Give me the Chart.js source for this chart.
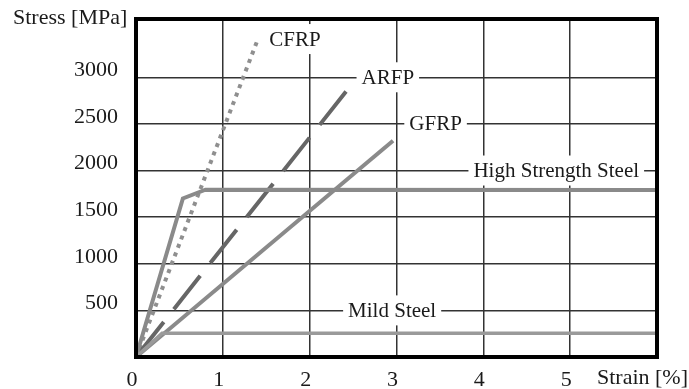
<!DOCTYPE html>
<html>
<head>
<meta charset="utf-8">
<script src="https://cdn.jsdelivr.net/npm/chart.js@4.4.0/dist/chart.umd.min.js"></script>
<style>
html,body{margin:0;padding:0;background:#fff;}
</style>
</head>
<body>
<canvas id="chart" width="689" height="389"></canvas>
<script>
// strain [%] / stress [MPa]
var cfrpStrain = [0, 1.4];
var cfrpStress = [0, 3400];
var arfpStrain = [0, 2.43];
var arfpStress = [0, 2860];
var gfrpStrain = [0, 2.96];
var gfrpStress = [0, 2320];
var hssStrain  = [0, 0.54, 0.8, 6];
var hssStress  = [0, 1700, 1795, 1790];
var mildStrain = [0, 0.3, 6];
var mildStress = [0, 255, 255];

var xTicks = [0, 1, 2, 3, 4, 5, 6];
var yTicks = [0, 500, 1000, 1500, 2000, 2500, 3000];

// curve names, placed in data units
var labelText = ["CFRP", "ARFP", "GFRP", "High Strength Steel", "Mild Steel"];
var labelX    = [1.83, 2.9, 3.45, 4.84, 2.95];
var labelY    = [3410, 3000, 2500, 2000, 500];

function pts(xs, ys) {
    var out = [];
    for (var i = 0; i < xs.length; i++) {
        out.push({x: xs[i], y: ys[i]});
    }
    return out;
}

var serif = "'Liberation Serif', 'DejaVu Serif', serif";

var curveLabels = {
    id: 'curveLabels',
    beforeDatasetsDraw: function(chart) {
        var ctx = chart.ctx;
        var xs = chart.scales.x, ys = chart.scales.y;
        ctx.save();
        ctx.font = "21px " + serif;
        ctx.textAlign = "center";
        ctx.textBaseline = "middle";
        for (var i = 0; i < labelText.length; i++) {
            var px = xs.getPixelForValue(labelX[i]);
            var py = ys.getPixelForValue(labelY[i]);
            var w = ctx.measureText(labelText[i]).width;
            ctx.fillStyle = "#fff";
            ctx.fillRect(px - w / 2 - 5, py - 15, w + 10, 30);
            ctx.fillStyle = "#1a1a1a";
            ctx.fillText(labelText[i], px, py + 1);
        }
        ctx.restore();
    }
};

var frame = {
    id: 'frame',
    afterDraw: function(chart) {
        var ctx = chart.ctx, a = chart.chartArea;
        ctx.save();
        ctx.strokeStyle = "#000";
        ctx.lineWidth = 4;
        ctx.strokeRect(a.left, a.top, a.right - a.left, a.bottom - a.top);
        ctx.font = "22px " + serif;
        ctx.fillStyle = "#1a1a1a";
        ctx.textBaseline = "middle";
        ctx.textAlign = "left";
        ctx.fillText("Stress [MPa]", 13, 18);
        ctx.textAlign = "right";
        ctx.fillText("Strain [%]", 688, 378);
        ctx.restore();
    }
};

new Chart(document.getElementById("chart"), {
    type: 'line',
    data: {
        datasets: [
            {label: "Mild Steel", data: pts(mildStrain, mildStress), borderColor: "#9a9a9a", borderWidth: 3.5},
            {label: "High Strength Steel", data: pts(hssStrain, hssStress), borderColor: "#8a8a8a", borderWidth: 4},
            {label: "GFRP", data: pts(gfrpStrain, gfrpStress), borderColor: "#8a8a8a", borderWidth: 4},
            {label: "ARFP", data: pts(arfpStrain, arfpStress), borderColor: "#666", borderWidth: 4, borderDash: [42.5, 16.25], borderDashOffset: 56.5},
            {label: "CFRP", data: pts(cfrpStrain, cfrpStress), borderColor: "#8f8f8f", borderWidth: 4, borderDash: [4, 5]}
        ]
    },
    options: {
        responsive: false,
        animation: false,
        layout: {padding: {top: 19, right: 32, left: 0, bottom: 0}},
        elements: {point: {radius: 0}, line: {tension: 0, fill: false}},
        plugins: {legend: {display: false}, tooltip: {enabled: false}},
        scales: {
            x: {
                type: 'linear',
                min: 0,
                max: 6,
                afterBuildTicks: function(s) { s.ticks = xTicks.map(function(v) { return {value: v}; }); },
                afterFit: function(s) { s.height = 32; },
                grid: {color: "#333", lineWidth: 1.5, drawTicks: false},
                border: {display: false},
                ticks: {
                    padding: 10,
                    labelOffset: -4,
                    color: "#1a1a1a",
                    font: {family: serif, size: 22},
                    callback: function(v) { return v == 6 ? "" : v; }
                }
            },
            y: {
                type: 'linear',
                min: 0,
                max: 3625,
                afterBuildTicks: function(s) { s.ticks = yTicks.map(function(v) { return {value: v}; }); },
                afterFit: function(s) { s.width = 136; },
                grid: {color: "#333", lineWidth: 1.5, drawTicks: true, tickLength: 16, tickColor: "rgba(0,0,0,0)"},
                border: {display: false},
                ticks: {
                    padding: 2,
                    labelOffset: -7,
                    color: "#1a1a1a",
                    font: {family: serif, size: 22},
                    callback: function(v) { return v == 0 ? "" : v; }
                }
            }
        }
    },
    plugins: [curveLabels, frame]
});
</script>
</body>
</html>
